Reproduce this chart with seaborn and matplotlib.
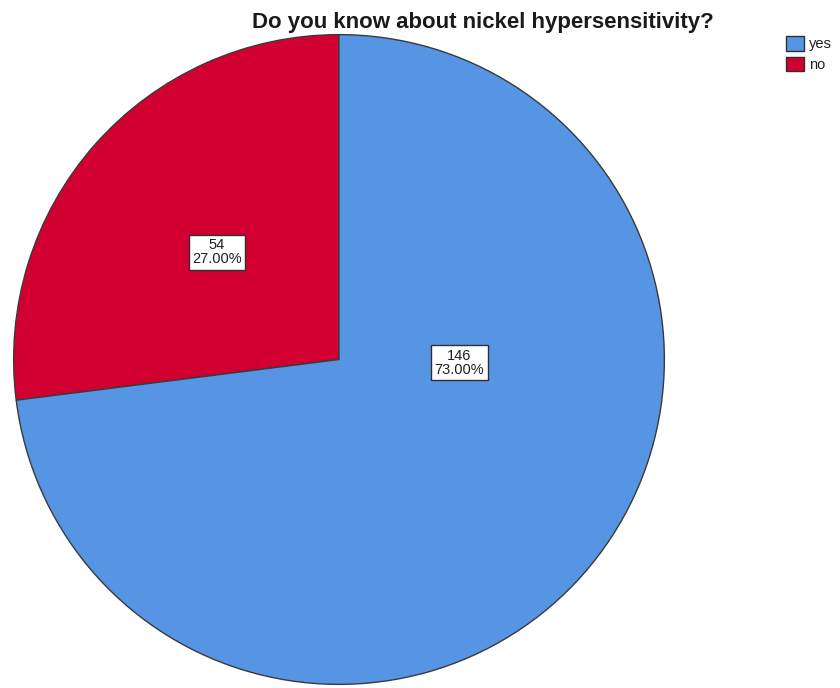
import matplotlib
matplotlib.use("Agg")
import matplotlib.pyplot as plt
from matplotlib.patches import Patch
import seaborn as sns

# Survey responses
title = "Do you know about nickel hypersensitivity?"
categories = ["yes", "no"]
counts = [146, 54]
percents = [73.00, 27.00]
colors = {"yes": "#5694E4", "no": "#D20030"}

sns.set_theme(style="white")
plt.rcParams["font.family"] = ["Liberation Sans", "DejaVu Sans"]

fig = plt.figure(figsize=(8.4, 6.88), dpi=100)
fig.patch.set_facecolor("white")
ax = fig.add_axes([12 / 840, 2 / 688, 654 / 840, 653 / 688])

# Wedges run counter-clockwise from 12 o'clock: "no" first, then "yes"
order = ["no", "yes"]
vals = [counts[categories.index(c)] for c in order]
wedges, _ = ax.pie(
    vals,
    colors=[colors[c] for c in order],
    startangle=90,
    counterclock=True,
    radius=1.0,
    wedgeprops=dict(edgecolor="#3a3a3a", linewidth=1.0),
)
ax.set_xlim(-1.005, 1.005)
ax.set_ylim(-1.005, 1.005)
ax.set_aspect("auto")
ax.axis("off")

# Value labels: count and percent in a boxed tag
label_pos = {"no": (-0.375, 0.33), "yes": (0.37, -0.01)}
for c in order:
    i = categories.index(c)
    x, y = label_pos[c]
    ax.text(
        x, y, f"{counts[i]}\n{percents[i]:.2f}%",
        ha="center", va="center", fontsize=10.5, linespacing=1.0,
        color="#202020",
        bbox=dict(boxstyle="square,pad=0.25", facecolor="white",
                  edgecolor="#303030", linewidth=1.0),
    )

fig.text(483 / 840, 1 - 28 / 688, title, ha="center", va="baseline",
         fontsize=16, fontweight="bold", color="#1a1a1a")

handles = [Patch(facecolor=colors[c], edgecolor="#303030", linewidth=1.0)
           for c in categories]
fig.legend(handles, categories, loc="upper left",
           bbox_to_anchor=(786 / 840, 1 - 36 / 688),
           frameon=False, fontsize=10.5, borderpad=0, borderaxespad=0,
           handlelength=1.2, handleheight=1.2, handletextpad=0.35,
           labelspacing=0.35, labelcolor="#202020")

fig.savefig("out.png", dpi=100, facecolor="white")
